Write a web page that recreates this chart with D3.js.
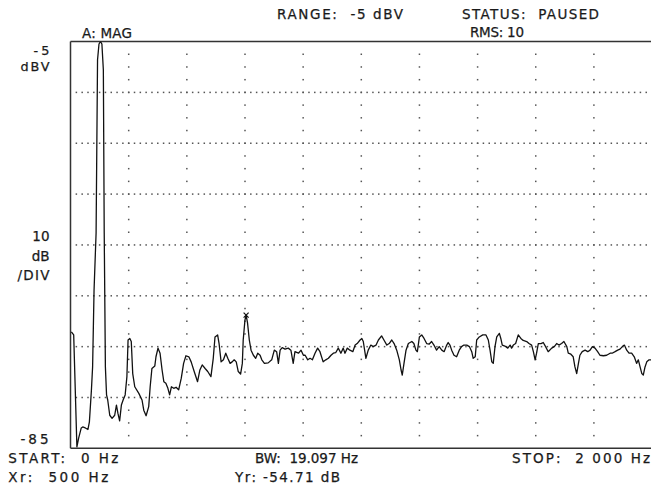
<!DOCTYPE html>
<html>
<head>
<meta charset="utf-8">
<script src="https://cdn.jsdelivr.net/npm/d3@7"></script>
<style>
  body { margin: 0; background: #fff; }
  text { font-family: "DejaVu Sans", sans-serif; font-size: 13.5px; fill: #1a1a1a; stroke: #1a1a1a; stroke-width: 0.25px; white-space: pre; }
  text.side { font-size: 12.8px; }
</style>
</head>
<body>
<svg id="chart" width="651" height="487"></svg>
<script>
// trace: frequency (Hz) and magnitude (dBV)
const freqHz = [3, 11, 22, 28, 37, 42, 51, 60, 65, 72, 76, 81, 88, 93, 98, 103, 108, 113, 116, 120,
  124, 128, 135, 143, 152, 158, 163, 169, 175, 181, 188, 194, 198, 204, 209, 214, 221, 235, 246, 252,
  260, 269, 274, 280, 290, 294, 301, 308, 315, 321, 328, 335, 341, 347, 355, 363, 372, 381, 389, 397,
  407, 415, 426, 437, 445, 453, 463, 472, 483, 491, 497, 506, 511, 518, 526, 534, 541, 549, 556, 563,
  570, 577, 585, 591, 594, 600, 604, 609, 615, 621, 629, 637, 644, 652, 658, 667, 680, 692, 701, 709,
  715, 721, 728, 738, 749, 758, 766, 772, 784, 793, 801, 807, 816, 824, 832, 841, 850, 858, 869, 878,
  887, 896, 904, 912, 921, 930, 938, 944, 952, 961, 971, 979, 986, 996, 1002, 1007, 1016, 1024, 1033, 1041,
  1051, 1059, 1070, 1078, 1088, 1096, 1105, 1113, 1122, 1131, 1137, 1141, 1147, 1154, 1162, 1174, 1181, 1188, 1193, 1200,
  1208, 1216, 1225, 1234, 1242, 1250, 1259, 1268, 1277, 1285, 1294, 1299, 1305, 1311, 1319, 1328, 1337, 1345, 1353, 1363,
  1372, 1380, 1385, 1392, 1397, 1406, 1418, 1429, 1437, 1443, 1449, 1454, 1460, 1466, 1475, 1480, 1485, 1494, 1504, 1512,
  1517, 1523, 1531, 1540, 1549, 1557, 1569, 1577, 1586, 1592, 1598, 1603, 1609, 1618, 1626, 1634, 1643, 1655, 1664, 1672,
  1680, 1689, 1697, 1707, 1712, 1721, 1729, 1735, 1741, 1747, 1752, 1760, 1770, 1779, 1787, 1795, 1804, 1813, 1821, 1833,
  1844, 1856, 1863, 1873, 1882, 1890, 1898, 1905, 1913, 1921, 1930, 1939, 1947, 1953, 1959, 1965, 1970, 1976, 1982, 1990,
  1997];
const magDb = [-62.1, -62.7, -84.7, -83.0, -81.0, -80.8, -81.0, -81.3, -79.8, -73.5, -69.0, -53.9, -42.7, -8.6, -5.5, -5.0, -5.5, -10.6, -42.7, -69.0,
  -74.5, -75.5, -78.5, -79.1, -78.5, -76.5, -78.1, -79.6, -76.5, -75.5, -74.5, -70.9, -63.7, -63.4, -64.0, -70.3, -72.9, -74.2, -75.5, -77.5,
  -78.6, -76.8, -72.9, -69.3, -68.8, -67.0, -65.3, -66.3, -69.6, -71.9, -72.2, -73.2, -74.5, -72.9, -73.2, -73.0, -73.5, -71.2, -68.3, -66.8,
  -67.0, -68.0, -70.0, -71.9, -69.6, -68.6, -69.3, -69.9, -70.9, -67.3, -63.1, -62.7, -64.4, -68.0, -67.6, -66.3, -67.3, -68.3, -68.0, -67.6,
  -68.0, -69.9, -70.4, -68.3, -63.7, -59.8, -58.8, -60.4, -63.7, -65.7, -66.7, -67.3, -66.3, -66.7, -67.6, -68.3, -68.2, -67.6, -65.7, -66.0,
  -68.3, -65.7, -65.2, -65.5, -65.3, -65.7, -68.3, -66.0, -66.3, -65.7, -66.7, -66.7, -67.6, -67.3, -67.6, -66.3, -65.3, -66.0, -68.0, -67.6,
  -67.3, -66.7, -66.3, -66.2, -65.3, -66.3, -65.3, -66.3, -65.3, -65.7, -66.0, -64.7, -64.4, -63.7, -63.4, -64.0, -67.3, -65.7, -64.7, -65.0,
  -64.7, -63.7, -62.9, -63.7, -64.7, -64.4, -63.7, -64.4, -65.7, -67.6, -69.6, -70.6, -68.3, -65.7, -64.4, -64.0, -64.4, -65.7, -66.0, -63.1,
  -62.7, -63.4, -64.4, -64.5, -64.0, -64.7, -65.7, -65.0, -65.7, -66.0, -64.7, -64.2, -64.7, -65.7, -66.7, -67.0, -65.7, -65.0, -64.7, -64.7,
  -65.0, -66.0, -67.3, -67.0, -63.7, -63.1, -62.7, -62.7, -63.7, -65.7, -68.0, -68.3, -65.0, -63.1, -62.4, -63.4, -64.7, -64.9, -65.3, -64.7,
  -65.3, -64.7, -64.4, -62.7, -63.4, -63.8, -64.0, -64.4, -64.7, -66.0, -67.6, -66.3, -64.4, -64.4, -64.2, -65.0, -66.0, -65.3, -65.0, -64.4,
  -64.7, -64.4, -64.0, -65.0, -66.3, -66.5, -67.0, -69.0, -70.3, -68.3, -66.7, -66.0, -65.7, -66.0, -65.7, -65.0, -65.3, -66.0, -66.7, -66.8,
  -66.7, -66.3, -66.3, -66.0, -65.7, -65.5, -65.0, -64.7, -65.7, -66.3, -66.3, -67.0, -68.3, -67.6, -69.0, -70.3, -70.6, -69.0, -68.0, -67.6,
  -67.6];

const marker = {hz: 604, db: -58.8};

const startHz = 0, stopHz = 2000, hzPerDiv = 200;
const topDb = -5, bottomDb = -85, dbPerDiv = 10;

const headerTexts = ["A: MAG", "RANGE:  -5 dBV", "STATUS:  PAUSED", "RMS: 10"];
const axisTexts = ["-5", "dBV", "10", "dB", "/DIV", "-85"];
const footerTexts = ["START:  0 Hz", "Xr:  500 Hz", "BW:  19.097 Hz", "Yr: -54.71 dB", "STOP:  2 000 Hz"];

const svg = d3.select("#chart");
const margin = {top: 41.5, left: 70.5, right: -1, bottom: 38.7};
const width = 651, height = 487;

const x = d3.scaleLinear().domain([startHz, stopHz]).range([margin.left, width - margin.right]);
const y = d3.scaleLinear().domain([bottomDb, topDb]).range([height - margin.bottom, margin.top]);

svg.append("defs").append("clipPath").attr("id", "plot")
  .append("rect")
  .attr("x", x(startHz)).attr("y", y(topDb))
  .attr("width", x(stopHz) - x(startHz)).attr("height", y(bottomDb) - y(topDb));

// dotted graticule
const grid = svg.append("g").attr("fill", "#555");
const xDivs = d3.range(startHz + hzPerDiv, stopHz, hzPerDiv);
const yDivs = d3.range(bottomDb + dbPerDiv, topDb, dbPerDiv);
const colDots = [];
xDivs.forEach(hz => d3.range(bottomDb + dbPerDiv / 4, topDb, dbPerDiv / 4).forEach(db => colDots.push([hz, db])));
yDivs.forEach(db => d3.range(startHz + hzPerDiv / 10, stopHz, hzPerDiv / 10).forEach(hz => colDots.push([hz, db])));
grid.selectAll("rect").data(colDots).enter().append("rect")
  .attr("x", d => x(d[0]) - 0.7).attr("y", d => y(d[1]) - 0.7)
  .attr("width", 1.5).attr("height", 1.5);

// frame
const frame = svg.append("g").attr("stroke", "#333").attr("stroke-width", 1.5);
frame.append("line").attr("x1", x(startHz)).attr("x2", x(startHz)).attr("y1", y(topDb)).attr("y2", y(bottomDb));
frame.append("line").attr("x1", x(startHz)).attr("x2", x(stopHz)).attr("y1", y(topDb)).attr("y2", y(topDb));
frame.append("line").attr("x1", x(startHz)).attr("x2", x(stopHz)).attr("y1", y(bottomDb)).attr("y2", y(bottomDb));

// trace
const trace = freqHz.map((f, i) => [f, magDb[i]]);
svg.append("path")
  .datum(trace)
  .attr("clip-path", "url(#plot)")
  .attr("fill", "none")
  .attr("stroke", "#111")
  .attr("stroke-width", 1.3)
  .attr("stroke-linejoin", "round")
  .attr("d", d3.line().x(d => x(d[0])).y(d => y(d[1])));

// marker
const mx = x(marker.hz), my = y(marker.db);
svg.append("path")
  .attr("stroke", "#111").attr("stroke-width", 1.2)
  .attr("d", `M${mx - 2.5},${my - 2.5}L${mx + 2.5},${my + 2.5}M${mx - 2.5},${my + 2.5}L${mx + 2.5},${my - 2.5}`);

// texts
function label(str, px, py, len, anchor, cls) {
  const t = svg.append("text")
    .attr("x", px).attr("y", py)
    .attr("text-anchor", anchor || "start")
    .text(str);
  if (cls) t.attr("class", cls);
  if (len) t.attr("textLength", len).attr("lengthAdjust", "spacing");
}
label(headerTexts[0], 82, 37.5, 50);
label(headerTexts[1], 277, 19, 126);
label(headerTexts[2], 462, 19, 137);
label(headerTexts[3], 470, 37, 54);

label(axisTexts[0], 49.5, y(topDb) + 13.5, 16, "end", "side");
label(axisTexts[1], 49.5, y(topDb) + 29, 29, "end", "side");
label(axisTexts[2], 49.5, 240.5, null, "end");
label(axisTexts[3], 49.5, 260.5, null, "end");
label(axisTexts[4], 49.5, 280, 32, "end");
label(axisTexts[5], 48.5, y(bottomDb) - 4, 28, "end");

label(footerTexts[0], 8.3, 463, 110);
label(footerTexts[1], 8.3, 482, 100);
label(footerTexts[2], 255, 463, 103);
label(footerTexts[3], 235, 482, 105);
label(footerTexts[4], 512, 463, 138);
</script>
</body>
</html>
